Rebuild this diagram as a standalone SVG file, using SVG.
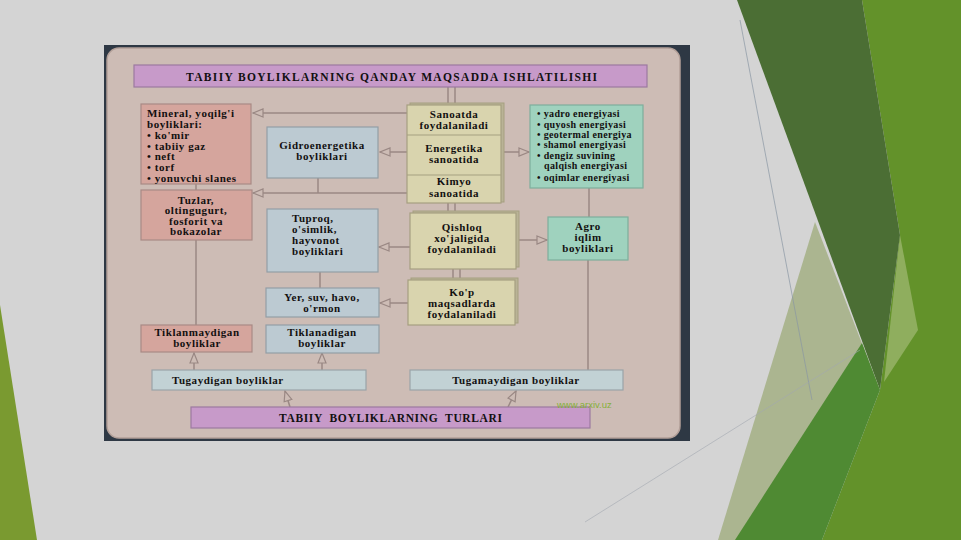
<svg xmlns="http://www.w3.org/2000/svg" width="961" height="540" viewBox="0 0 961 540">
<style>
.t{font-family:"Liberation Serif","DejaVu Serif",serif;font-weight:bold;font-size:11px;fill:#121010;letter-spacing:0.55px}
.c{text-anchor:middle}
.s{font-size:10px;letter-spacing:0.35px}
.h{font-size:11.5px;letter-spacing:0px;white-space:pre}
.ln{stroke:#9a8884;stroke-width:1.5;fill:none}
.ar{marker-end:url(#arr)}
.pk{fill:#d5a59d;stroke:#a98a85;stroke-width:1.2}
.bl{fill:#bccad2;stroke:#939ea6;stroke-width:1.2}
.kh{fill:#d9d4ae;stroke:#a69f80;stroke-width:1.2}
.kb{fill:#b9b396;stroke:#a69f80;stroke-width:1}
.mt{fill:#9fd2be;stroke:#7eae9c;stroke-width:1.2}
.lb{fill:#c2d2d5;stroke:#9aa4a8;stroke-width:1.2}
.pu{fill:#c79ac9;stroke:#9c7aa0;stroke-width:1.2}
</style>
<defs>
<marker id="arr" markerWidth="12" markerHeight="10" refX="11" refY="5" orient="auto" markerUnits="userSpaceOnUse">
<path d="M1,1 L11,5 L1,9 Z" fill="#cdbcb5" stroke="#9a8884" stroke-width="1.2"/>
</marker>
</defs>

<!-- slide background -->
<rect x="0" y="0" width="961" height="540" fill="#d4d4d4"/>
<polygon points="0,305 37,540 0,540" fill="#7a9a30"/>
<polygon points="862,0 961,0 961,540 822,540 880,390 900,235" fill="#63922a"/>
<polygon points="900,235 918,330 884,382" fill="#8fae5e"/>
<polygon points="737,0 862,0 900,235 880,390" fill="#4b6e34"/>
<polygon points="815,222 880,390 760,540 718,540" fill="#abb590"/>
<polygon points="862,343 880,390 822,540 735,540" fill="#4f8a33"/>
<line x1="740" y1="20" x2="812" y2="400" stroke="#8a96a4" stroke-width="0.7"/>
<line x1="585" y1="522" x2="860" y2="350" stroke="#a2a8b0" stroke-width="0.6"/>

<!-- picture frame -->
<rect x="104" y="45" width="586" height="396" fill="#2e3844"/>
<rect x="107" y="48" width="573" height="390" rx="12" fill="#cdbcb5" stroke="#b29f98" stroke-width="1.5"/>

<!-- connectors -->
<g id="connectors">
<line class="ln" x1="448" y1="87" x2="448" y2="105"/>
<line class="ln" x1="455" y1="87" x2="455" y2="105"/>
<line class="ln ar" x1="407" y1="113" x2="253" y2="113"/>
<line class="ln ar" x1="407" y1="152" x2="380" y2="152"/>
<line class="ln ar" x1="503" y1="152" x2="529" y2="152"/>
<line class="ln ar" x1="407" y1="193" x2="253" y2="193"/>
<line class="ln" x1="318" y1="178" x2="318" y2="193"/>
<line class="ln" x1="196" y1="184" x2="196" y2="190"/>
<line class="ln" x1="196" y1="240" x2="196" y2="325"/>
<line class="ln" x1="448" y1="203" x2="448" y2="213"/>
<line class="ln" x1="455" y1="203" x2="455" y2="213"/>
<line class="ln ar" x1="410" y1="247" x2="379" y2="247"/>
<line class="ln ar" x1="518" y1="240" x2="547" y2="240"/>
<line class="ln" x1="453" y1="269" x2="453" y2="280"/>
<line class="ln" x1="460" y1="269" x2="460" y2="280"/>
<line class="ln ar" x1="408" y1="303" x2="380" y2="303"/>
<line class="ln" x1="320" y1="272" x2="320" y2="288"/>
<line class="ln" x1="589" y1="188" x2="589" y2="217"/>
<line class="ln" x1="588" y1="260" x2="588" y2="370"/>
<line class="ln ar" x1="194" y1="370" x2="194" y2="353"/>
<line class="ln ar" x1="322" y1="370" x2="322" y2="353"/>
<line class="ln ar" x1="290" y1="407" x2="285" y2="391"/>
<line class="ln ar" x1="508" y1="407" x2="516" y2="391"/>
</g>

<g id="title-top">
<rect class="pu" x="134" y="65" width="513" height="22"/>
<text class="t h" x="186" y="81" textLength="411" lengthAdjust="spacing">TABIIY BOYLIKLARNING QANDAY MAQSADDA ISHLATILISHI</text>
</g>

<g id="mineral">
<rect class="pk" x="141" y="104" width="110" height="80"/>
<text class="t" x="147" y="117">Mineral, yoqilg'i</text>
<text class="t" x="147" y="128">boyliklari:</text>
<text class="t" x="147" y="138.5">• ko'mir</text>
<text class="t" x="147" y="149.5">• tabiiy gaz</text>
<text class="t" x="147" y="160">• neft</text>
<text class="t" x="147" y="171">• torf</text>
<text class="t" x="147" y="182">• yonuvchi slanes</text>
</g>

<g id="tuzlar">
<rect class="pk" x="141" y="190" width="111" height="50"/>
<text class="t c" x="196" y="203.5">Tuzlar,</text>
<text class="t c" x="196" y="214">oltingugurt,</text>
<text class="t c" x="196" y="224.5">fosforit va</text>
<text class="t c" x="196" y="235">bokazolar</text>
</g>

<g id="gidro">
<rect class="bl" x="267" y="127" width="111" height="51"/>
<text class="t c" x="322" y="149">Gidroenergetika</text>
<text class="t c" x="322" y="160">boyliklari</text>
</g>

<g id="tuproq">
<rect class="bl" x="267" y="209" width="111" height="63"/>
<text class="t" x="292" y="222">Tuproq,</text>
<text class="t" x="292" y="233">o'simlik,</text>
<text class="t" x="292" y="244">hayvonot</text>
<text class="t" x="292" y="255">boyliklari</text>
</g>

<g id="yer-suv">
<rect class="bl" x="266" y="288" width="113" height="29"/>
<text class="t c" x="322" y="301">Yer, suv, havo,</text>
<text class="t c" x="322" y="312">o'rmon</text>
</g>

<g id="sanoat">
<rect class="kb" x="410" y="103" width="94" height="99"/>
<rect class="kh" x="407" y="105" width="94" height="98"/>
<line x1="407" y1="135" x2="501" y2="135" stroke="#a69f80" stroke-width="1.2"/>
<line x1="407" y1="175" x2="501" y2="175" stroke="#a69f80" stroke-width="1.2"/>
<text class="t c" x="454" y="118">Sanoatda</text>
<text class="t c" x="454" y="129">foydalaniladi</text>
<text class="t c" x="454" y="151.5">Energetika</text>
<text class="t c" x="454" y="163">sanoatida</text>
<text class="t c" x="454" y="185">Kimyo</text>
<text class="t c" x="454" y="196.5">sanoatida</text>
</g>

<g id="energiya">
<rect class="mt" x="530" y="105" width="113" height="83"/>
<text class="t s" x="537" y="117">• yadro energiyasi</text>
<text class="t s" x="537" y="127.5">• quyosh energiyasi</text>
<text class="t s" x="537" y="137.5">• geotermal energiya</text>
<text class="t s" x="537" y="147.5">• shamol energiyasi</text>
<text class="t s" x="537" y="158.5">• dengiz suvining</text>
<text class="t s" x="544" y="169">qalqish energiyasi</text>
<text class="t s" x="537" y="180.5">• oqimlar energiyasi</text>
</g>

<g id="qishloq">
<rect class="kb" x="413" y="211" width="106" height="56"/>
<rect class="kh" x="410" y="213" width="106" height="56"/>
<text class="t c" x="462" y="230.5">Qishloq</text>
<text class="t c" x="462" y="241.5">xo'jaligida</text>
<text class="t c" x="462" y="252.5">foydalaniladi</text>
</g>

<g id="agro">
<rect class="mt" x="548" y="217" width="80" height="43"/>
<text class="t c" x="588" y="229.5">Agro</text>
<text class="t c" x="588" y="240.5">iqlim</text>
<text class="t c" x="588" y="251.5">boyliklari</text>
</g>

<g id="kop">
<rect class="kb" x="411" y="278" width="107" height="45"/>
<rect class="kh" x="408" y="280" width="107" height="45"/>
<text class="t c" x="462" y="295.5">Ko'p</text>
<text class="t c" x="462" y="306.5">maqsadlarda</text>
<text class="t c" x="462" y="317.5">foydalaniladi</text>
</g>

<g id="tiklanmaydigan">
<rect class="pk" x="141" y="325" width="111" height="27"/>
<text class="t c" x="197" y="336">Tiklanmaydigan</text>
<text class="t c" x="197" y="347">boyliklar</text>
</g>

<g id="tiklanadigan">
<rect class="bl" x="266" y="325" width="113" height="28"/>
<text class="t c" x="322" y="336">Tiklanadigan</text>
<text class="t c" x="322" y="347">boyliklar</text>
</g>

<g id="tugaydigan">
<rect class="lb" x="152" y="370" width="214" height="20"/>
<text class="t" x="172" y="384">Tugaydigan boyliklar</text>
</g>

<g id="tugamaydigan">
<rect class="lb" x="410" y="370" width="213" height="20"/>
<text class="t c" x="516" y="384">Tugamaydigan boyliklar</text>
</g>

<g id="title-bottom">
<rect class="pu" x="191" y="407" width="399" height="21"/>
<text class="t h" x="279" y="421.5" textLength="223" lengthAdjust="spacing">TABIIY  BOYLIKLARNING  TURLARI</text>
</g>

<text x="557" y="408" font-family="Liberation Sans, sans-serif" font-size="9.5" fill="#86b03a">www.arxiv.uz</text>
</svg>
